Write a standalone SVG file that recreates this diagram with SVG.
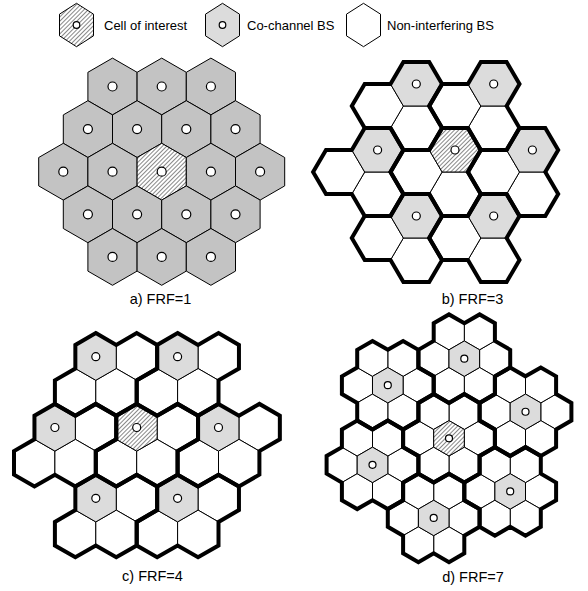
<svg xmlns="http://www.w3.org/2000/svg" width="588" height="591" viewBox="0 0 588 591">
<style>
.t{font-family:"Liberation Sans",Arial,sans-serif;font-size:13px;fill:#000}
.lb{font-size:14.5px}
.thin{stroke:#000;stroke-width:1;stroke-linejoin:miter}
.fa{fill:#c3c3c3}
.fg{fill:#dcdcdc}
.fw{fill:#fff}
.fh{fill:url(#hatch)}
.thick{fill:none;stroke:#000;stroke-width:4;stroke-linejoin:miter}
.bs{fill:#fff;stroke:#000;stroke-width:1.2}
</style>
<defs>
<pattern id="hatch" width="3" height="3" patternUnits="userSpaceOnUse" patternTransform="rotate(45)">
<rect width="3" height="3" fill="#fff"/>
<line x1="0.5" y1="0" x2="0.5" y2="3" stroke="#7a7a7a" stroke-width="0.9"/>
</pattern>
<path id="hA" d="M0,-28.4 L24.6,-14.2 L24.6,14.2 L0,28.4 L-24.6,14.2 L-24.6,-14.2Z"/>
<path id="hB" d="M-25.8,0 L-12.9,-22 L12.9,-22 L25.8,0 L12.9,22 L-12.9,22Z"/>
<path id="hC" d="M0,-23.6 L20.45,-11.8 L20.45,11.8 L0,23.6 L-20.45,11.8 L-20.45,-11.8Z"/>
<path id="hD" d="M0,-17.7 L15.3,-8.85 L15.3,8.85 L0,17.7 L-15.3,8.85 L-15.3,-8.85Z"/>
<path id="hL" d="M0,-21.7 L17,-10.85 L17,10.85 L0,21.7 L-17,10.85 L-17,-10.85Z"/>
<g id="bW" class="thin fw"><use href="#hB" x="0" y="44"/><use href="#hB" x="-38.7" y="22"/></g>
<g id="cW" class="thin fw"><use href="#hC" x="40.9" y="0"/><use href="#hC" x="-20.45" y="35.4"/><use href="#hC" x="20.45" y="35.4"/></g>
<g id="dW" class="thin fw"><use href="#hD" x="30.6" y="0"/><use href="#hD" x="-30.6" y="0"/><use href="#hD" x="15.3" y="-26.55"/><use href="#hD" x="-15.3" y="-26.55"/><use href="#hD" x="15.3" y="26.55"/><use href="#hD" x="-15.3" y="26.55"/></g>
<path id="oB" d="M12.9,-22 L25.8,0 L12.9,22 L25.8,44 L12.9,66 L-12.9,66 L-25.8,44 L-51.6,44 L-64.5,22 L-51.6,0 L-25.8,0 L-12.9,-22 Z"/>
<path id="oC" d="M0,-23.6 L20.45,-11.8 L40.9,-23.6 L61.35,-11.8 L61.35,11.8 L40.9,23.6 L40.9,47.2 L20.45,59 L0,47.2 L-20.45,59 L-40.9,47.2 L-40.9,23.6 L-20.45,11.8 L-20.45,-11.8 Z"/>
<path id="oD" d="M0,-35.4 L15.3,-44.25 L30.6,-35.4 L30.6,-17.7 L45.9,-8.85 L45.9,8.85 L30.6,17.7 L30.6,35.4 L15.3,44.25 L0,35.4 L-15.3,44.25 L-30.6,35.4 L-30.6,17.7 L-45.9,8.85 L-45.9,-8.85 L-30.6,-17.7 L-30.6,-35.4 L-15.3,-44.25 Z"/>
</defs>

<g id="legend">
<g id="legend-cell-of-interest">
<use href="#hL" class="thin fh" x="76.5" y="25"/>
<circle class="bs" cx="76.5" cy="25" r="3.3"/>
<text class="t" x="104" y="29.5">Cell of interest</text>
</g>
<g id="legend-co-channel">
<use href="#hL" class="thin fg" x="222.5" y="25"/>
<circle class="bs" cx="222.5" cy="25" r="3.3"/>
<text class="t" x="247" y="29.5">Co-channel BS</text>
</g>
<g id="legend-non-interfering">
<use href="#hL" class="thin fw" x="363.5" y="25"/>
<text class="t" x="387" y="29.5">Non-interfering BS</text>
</g>
</g>

<g id="panel-a">
<g id="a-cells" class="thin fa">
<use href="#hA" x="112.5" y="86.5"/><use href="#hA" x="161.7" y="86.5"/><use href="#hA" x="210.9" y="86.5"/>
<use href="#hA" x="87.9" y="129.1"/><use href="#hA" x="137.1" y="129.1"/><use href="#hA" x="186.3" y="129.1"/><use href="#hA" x="235.5" y="129.1"/>
<use href="#hA" x="63.3" y="171.7"/><use href="#hA" x="112.5" y="171.7"/><use href="#hA" class="fh" x="161.7" y="171.7"/><use href="#hA" x="210.9" y="171.7"/><use href="#hA" x="260.1" y="171.7"/>
<use href="#hA" x="87.9" y="214.3"/><use href="#hA" x="137.1" y="214.3"/><use href="#hA" x="186.3" y="214.3"/><use href="#hA" x="235.5" y="214.3"/>
<use href="#hA" x="112.5" y="256.9"/><use href="#hA" x="161.7" y="256.9"/><use href="#hA" x="210.9" y="256.9"/>
</g>
<g id="a-bs" class="bs">
<circle cx="112.5" cy="86.5" r="4.5"/><circle cx="161.7" cy="86.5" r="4.5"/><circle cx="210.9" cy="86.5" r="4.5"/>
<circle cx="87.9" cy="129.1" r="4.5"/><circle cx="137.1" cy="129.1" r="4.5"/><circle cx="186.3" cy="129.1" r="4.5"/><circle cx="235.5" cy="129.1" r="4.5"/>
<circle cx="63.3" cy="171.7" r="4.5"/><circle cx="112.5" cy="171.7" r="4.5"/><circle cx="161.7" cy="171.7" r="4.5"/><circle cx="210.9" cy="171.7" r="4.5"/><circle cx="260.1" cy="171.7" r="4.5"/>
<circle cx="87.9" cy="214.3" r="4.5"/><circle cx="137.1" cy="214.3" r="4.5"/><circle cx="186.3" cy="214.3" r="4.5"/><circle cx="235.5" cy="214.3" r="4.5"/>
<circle cx="112.5" cy="256.9" r="4.5"/><circle cx="161.7" cy="256.9" r="4.5"/><circle cx="210.9" cy="256.9" r="4.5"/>
</g>
<text class="t lb" x="160.5" y="303.5" text-anchor="middle">a) FRF=1</text>
</g>

<g id="panel-b">
<g id="b-cells">
<use href="#bW" x="416.3" y="84"/><use href="#bW" x="493.7" y="84"/><use href="#bW" x="377.6" y="150"/><use href="#bW" x="455" y="150"/><use href="#bW" x="532.4" y="150"/><use href="#bW" x="416.3" y="216"/><use href="#bW" x="493.7" y="216"/>
<g class="thin fg">
<use href="#hB" x="416.3" y="84"/><use href="#hB" x="493.7" y="84"/><use href="#hB" x="377.6" y="150"/><use href="#hB" class="fh" x="455" y="150"/><use href="#hB" x="532.4" y="150"/><use href="#hB" x="416.3" y="216"/><use href="#hB" x="493.7" y="216"/>
</g>
</g>
<g id="b-clusters" class="thick">
<use href="#oB" x="416.3" y="84"/><use href="#oB" x="493.7" y="84"/><use href="#oB" x="377.6" y="150"/><use href="#oB" x="455" y="150"/><use href="#oB" x="532.4" y="150"/><use href="#oB" x="416.3" y="216"/><use href="#oB" x="493.7" y="216"/>
</g>
<g id="b-bs" class="bs">
<circle cx="416.3" cy="84" r="4"/><circle cx="493.7" cy="84" r="4"/><circle cx="377.6" cy="150" r="4"/><circle cx="455" cy="150" r="4"/><circle cx="532.4" cy="150" r="4"/><circle cx="416.3" cy="216" r="4"/><circle cx="493.7" cy="216" r="4"/>
</g>
<text class="t lb" x="472.5" y="303.5" text-anchor="middle">b) FRF=3</text>
</g>

<g id="panel-c">
<g id="c-cells">
<use href="#cW" x="95.8" y="356.7"/><use href="#cW" x="177.6" y="356.7"/><use href="#cW" x="54.9" y="427.5"/><use href="#cW" x="136.7" y="427.5"/><use href="#cW" x="218.5" y="427.5"/><use href="#cW" x="95.8" y="498.3"/><use href="#cW" x="177.6" y="498.3"/>
<g class="thin fg">
<use href="#hC" x="95.8" y="356.7"/><use href="#hC" x="177.6" y="356.7"/><use href="#hC" x="54.9" y="427.5"/><use href="#hC" class="fh" x="136.7" y="427.5"/><use href="#hC" x="218.5" y="427.5"/><use href="#hC" x="95.8" y="498.3"/><use href="#hC" x="177.6" y="498.3"/>
</g>
</g>
<g id="c-clusters" class="thick">
<use href="#oC" x="95.8" y="356.7"/><use href="#oC" x="177.6" y="356.7"/><use href="#oC" x="54.9" y="427.5"/><use href="#oC" x="136.7" y="427.5"/><use href="#oC" x="218.5" y="427.5"/><use href="#oC" x="95.8" y="498.3"/><use href="#oC" x="177.6" y="498.3"/>
</g>
<g id="c-bs" class="bs">
<circle cx="95.8" cy="356.7" r="4"/><circle cx="177.6" cy="356.7" r="4"/><circle cx="54.9" cy="427.5" r="4"/><circle cx="136.7" cy="427.5" r="4"/><circle cx="218.5" cy="427.5" r="4"/><circle cx="95.8" cy="498.3" r="4"/><circle cx="177.6" cy="498.3" r="4"/>
</g>
<text class="t lb" x="152.5" y="581" text-anchor="middle">c) FRF=4</text>
</g>

<g id="panel-d">
<g id="d-cells">
<use href="#dW" x="464.3" y="358.65"/><use href="#dW" x="387.8" y="385.2"/><use href="#dW" x="525.5" y="411.75"/><use href="#dW" x="449" y="438.3"/><use href="#dW" x="372.5" y="464.85"/><use href="#dW" x="510.2" y="491.4"/><use href="#dW" x="433.7" y="517.95"/>
<g class="thin fg">
<use href="#hD" x="464.3" y="358.65"/><use href="#hD" x="387.8" y="385.2"/><use href="#hD" x="525.5" y="411.75"/><use href="#hD" class="fh" x="449" y="438.3"/><use href="#hD" x="372.5" y="464.85"/><use href="#hD" x="510.2" y="491.4"/><use href="#hD" x="433.7" y="517.95"/>
</g>
</g>
<g id="d-clusters" class="thick">
<use href="#oD" x="464.3" y="358.65"/><use href="#oD" x="387.8" y="385.2"/><use href="#oD" x="525.5" y="411.75"/><use href="#oD" x="449" y="438.3"/><use href="#oD" x="372.5" y="464.85"/><use href="#oD" x="510.2" y="491.4"/><use href="#oD" x="433.7" y="517.95"/>
</g>
<g id="d-bs" class="bs">
<circle cx="464.3" cy="358.65" r="3.5"/><circle cx="387.8" cy="385.2" r="3.5"/><circle cx="525.5" cy="411.75" r="3.5"/><circle cx="449" cy="438.3" r="3.5"/><circle cx="372.5" cy="464.85" r="3.5"/><circle cx="510.2" cy="491.4" r="3.5"/><circle cx="433.7" cy="517.95" r="3.5"/>
</g>
<text class="t lb" x="473" y="582" text-anchor="middle">d) FRF=7</text>
</g>
</svg>
